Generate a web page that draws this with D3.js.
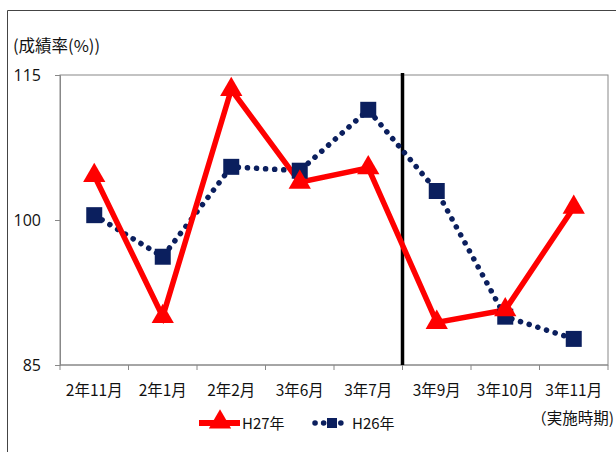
<!DOCTYPE html>
<html>
<head>
<meta charset="utf-8">
<script src="https://cdn.jsdelivr.net/npm/d3@7"></script>
<style>
  body { margin: 0; background: #fff; }
  text { font-family: "Noto Sans CJK JP", "Noto Sans", sans-serif; fill: #111; }
</style>
</head>
<body>
<svg id="chart" width="616" height="452"></svg>
<script>
// categories (実施時期)
const periods = ["2年11月", "2年1月", "2年2月", "3年6月", "3年7月", "3年9月", "3年10月", "3年11月"];
// series values
const h27 = [104.6, 90.0, 113.5, 103.9, 105.4, 89.4, 90.7, 101.3];
const h26 = [100.5, 96.2, 105.5, 105.1, 111.4, 103.0, 90.0, 87.7];
const yTicks = [85, 100, 115];
const seriesNames = ["H27年", "H26年"];

const margin = {top: 75, right: 8, bottom: 87, left: 60};
const W = 616, H = 452;
const width = W - margin.left - margin.right,
      height = H - margin.top - margin.bottom;

const svg = d3.select("#chart");

// outer frame (only top and left visible in the crop)
svg.append("path")
  .attr("d", "M7.5,452 L7.5,10.5 L616,10.5")
  .attr("fill", "none").attr("stroke", "#444").attr("stroke-width", 1);

const g = svg.append("g").attr("transform", "translate(" + margin.left + "," + margin.top + ")");

const x = d3.scaleBand().domain(periods).range([0, width]);
const y = d3.scaleLinear().domain([85, 115]).range([height, 0]);

// plot box
g.append("rect")
  .attr("x", 0).attr("y", 0).attr("width", width).attr("height", height)
  .attr("fill", "none").attr("stroke", "#888").attr("stroke-width", 1);

// y axis
const yAxis = g.append("g")
  .call(d3.axisLeft(y).tickValues(yTicks).tickSize(5).tickPadding(14));
yAxis.select(".domain").attr("stroke", "#888");
yAxis.selectAll(".tick line").attr("stroke", "#888");
yAxis.selectAll("text").attr("font-size", 16).style("font-family", "'Open Sans', 'Noto Sans', sans-serif");

// x axis: ticks at category boundaries
const xAxis = g.append("g").attr("transform", "translate(0," + height + ")");
xAxis.append("line").attr("x1", 0).attr("x2", width).attr("stroke", "#888");
xAxis.selectAll("line.tk")
  .data(periods.concat(["end"]))
  .enter().append("line").attr("class", "tk")
  .attr("x1", (d, i) => i * x.step()).attr("x2", (d, i) => i * x.step())
  .attr("y1", 0).attr("y2", 5).attr("stroke", "#888");
xAxis.selectAll("text")
  .data(periods)
  .enter().append("text")
  .attr("x", d => x(d) + x.bandwidth() / 2)
  .attr("y", 31)
  .attr("text-anchor", "middle")
  .attr("font-size", 15.5)
  .text(d => d);

// axis titles
svg.append("text").attr("x", 13).attr("y", 52).attr("font-size", 16.5).text("(成績率(%))");
svg.append("text").attr("x", 614).attr("y", 424).attr("text-anchor", "end").attr("font-size", 15.5).text("（実施時期)");

// vertical separator between 3年7月 and 3年9月
const sepX = x("3年9月");
g.append("line")
  .attr("x1", sepX).attr("x2", sepX).attr("y1", -2).attr("y2", height)
  .attr("stroke", "#000").attr("stroke-width", 3.5);

const cx = d => x(d) + x.bandwidth() / 2;
const red = "#ff0000", navy = "#0b1f5e";

const line = d3.line().x(d => cx(d[0])).y(d => y(d[1]));

// H26 dotted
g.append("path")
  .datum(periods.map((p, i) => [p, h26[i]]))
  .attr("d", line)
  .attr("fill", "none").attr("stroke", navy).attr("stroke-width", 5.5)
  .attr("stroke-linecap", "round").attr("stroke-dasharray", "0.1 9");

// H27 solid
g.append("path")
  .datum(periods.map((p, i) => [p, h27[i]]))
  .attr("d", line)
  .attr("fill", "none").attr("stroke", red).attr("stroke-width", 5.5)
  .attr("stroke-linejoin", "miter");

const tri = d3.symbol().type(d3.symbolTriangle).size(215);
const sq = d3.symbol().type(d3.symbolSquare).size(256);

g.selectAll("path.sq")
  .data(periods)
  .enter().append("path").attr("class", "sq")
  .attr("d", sq)
  .attr("transform", (d, i) => "translate(" + cx(d) + "," + y(h26[i]) + ")")
  .attr("fill", navy);

g.selectAll("path.tri")
  .data(periods)
  .enter().append("path").attr("class", "tri")
  .attr("d", tri)
  .attr("transform", (d, i) => "translate(" + cx(d) + "," + y(h27[i]) + ")")
  .attr("fill", red);

// legend
const leg = svg.append("g").attr("transform", "translate(0,423)");
leg.append("line").attr("x1", 199).attr("x2", 240).attr("stroke", red).attr("stroke-width", 6);
leg.append("path").attr("d", tri).attr("transform", "translate(220,-1)").attr("fill", red);
leg.append("text").attr("x", 242).attr("y", 6).attr("font-size", 15).text(seriesNames[0]);
leg.append("line").attr("x1", 315).attr("x2", 349).attr("stroke", navy).attr("stroke-width", 5.5)
  .attr("stroke-linecap", "round").attr("stroke-dasharray", "0.1 8.5");
leg.append("path").attr("d", d3.symbol().type(d3.symbolSquare).size(100)).attr("transform", "translate(332,0)").attr("fill", navy);
leg.append("text").attr("x", 352).attr("y", 6).attr("font-size", 15).text(seriesNames[1]);
</script>
</body>
</html>
